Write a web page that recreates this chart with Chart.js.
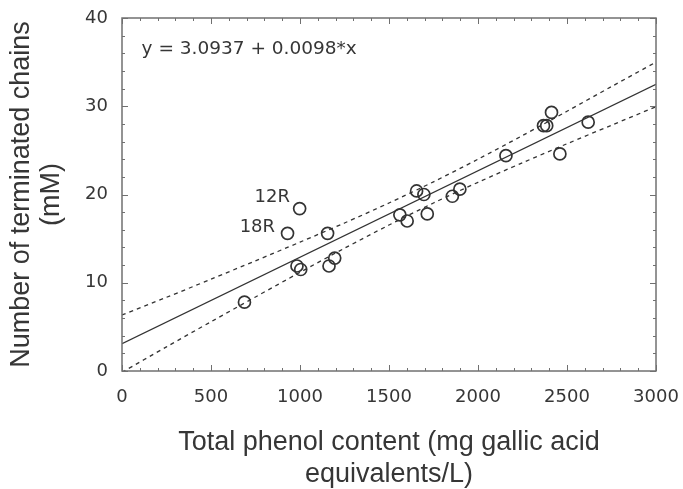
<!DOCTYPE html>
<html>
<head>
<meta charset="utf-8">
<script src="https://cdn.jsdelivr.net/npm/chart.js@4/dist/chart.umd.min.js"></script>
<style>
  html, body { margin: 0; padding: 0; background: #ffffff; }
  #wrap { width: 683px; height: 489px; }
</style>
</head>
<body>
<div id="wrap"><canvas id="c" width="683" height="489"></canvas></div>
<script>
// ---- data ----
const phenolX = [688, 930, 998, 983, 1004, 1155, 1163, 1195, 1561, 1602, 1655, 1696, 1715, 1856, 1898, 2157, 2368, 2386, 2413, 2460, 2619];
const chainsY = [7.8, 15.6, 18.4, 11.9, 11.5, 15.6, 11.9, 12.8, 17.7, 17.0, 20.4, 20.0, 17.8, 19.8, 20.6, 24.4, 27.8, 27.8, 29.3, 24.6, 28.2];

const fitX = [0, 3000];
const fitY = [3.09, 32.49];

const bandX     = [0, 250, 500, 750, 1000, 1250, 1500, 1750, 2000, 2250, 2500, 2750, 3000];
const bandUpper = [6.35, 8.35, 10.40, 12.49, 14.60, 16.77, 19.04, 21.44, 24.00, 26.68, 29.43, 32.23, 35.00];
const bandLower = [-0.15, 2.74, 5.58, 8.39, 11.18, 13.91, 16.54, 19.04, 21.38, 23.60, 25.75, 27.85, 29.95];

const xTicks = [0, 500, 1000, 1500, 2000, 2500, 3000];
const yTicks = [0, 10, 20, 30, 40];

const equationText = 'y = 3.0937 + 0.0098*x';
const pointLabels = ['12R', '18R'];
const pointLabelAt = [[944, 19.2], [860, 15.7]];
const equationAt = [110, 35.9];

// ---- helpers ----
const toXY = (xs, ys) => xs.map((v, i) => ({ x: v, y: ys[i] }));
const INK = '#333333';
const TEXT = '#363636';
const SMALL_FONT = 'DejaVu Sans';
const BIG_FONT = 'Liberation Sans';

const frame = {
  id: 'frame',
  afterDraw(chart) {
    const { ctx, chartArea: a, scales: { x, y } } = chart;
    ctx.save();
    ctx.strokeStyle = '#707070';
    ctx.lineWidth = 1;
    ctx.beginPath();
    for (let v = xTicks[0]; v <= xTicks[xTicks.length - 1]; v += 100) {
      const px = Math.round(x.getPixelForValue(v)) + 0.5;
      const len = xTicks.includes(v) ? 6 : 3;
      ctx.moveTo(px, a.bottom); ctx.lineTo(px, a.bottom - len);
      ctx.moveTo(px, a.top); ctx.lineTo(px, a.top + len);
    }
    for (let v = yTicks[0]; v <= yTicks[yTicks.length - 1]; v += 2) {
      const py = Math.round(y.getPixelForValue(v)) + 0.5;
      const len = yTicks.includes(v) ? 6 : 3;
      ctx.moveTo(a.left, py); ctx.lineTo(a.left + len, py);
      ctx.moveTo(a.right, py); ctx.lineTo(a.right - len, py);
    }
    ctx.stroke();
    ctx.lineWidth = 1.5;
    ctx.strokeRect(a.left, a.top, a.right - a.left, a.bottom - a.top);
    ctx.restore();
  }
};

const notes = {
  id: 'notes',
  afterDatasetsDraw(chart) {
    const { ctx, scales: { x, y } } = chart;
    ctx.save();
    ctx.fillStyle = TEXT;
    ctx.textBaseline = 'alphabetic';
    ctx.font = '18.5px "' + SMALL_FONT + '"';
    ctx.textAlign = 'left';
    ctx.fillText(equationText, x.getPixelForValue(equationAt[0]), y.getPixelForValue(equationAt[1]));
    ctx.font = '18px "' + SMALL_FONT + '"';
    ctx.textAlign = 'right';
    pointLabels.forEach((t, i) => {
      ctx.fillText(t, x.getPixelForValue(pointLabelAt[i][0]), y.getPixelForValue(pointLabelAt[i][1]));
    });
    ctx.restore();
  }
};

new Chart(document.getElementById('c'), {
  type: 'scatter',
  data: {
    datasets: [
      {
        label: 'samples',
        data: toXY(phenolX, chainsY),
        pointStyle: 'circle',
        pointRadius: 6,
        pointHoverRadius: 6,
        backgroundColor: 'rgba(0,0,0,0)',
        borderColor: INK,
        borderWidth: 1.7,
        order: 0
      },
      {
        type: 'line',
        label: 'fit',
        data: toXY(fitX, fitY),
        borderColor: INK,
        borderWidth: 1.3,
        pointRadius: 0,
        fill: false,
        order: 1
      },
      {
        type: 'line',
        label: 'upper',
        data: toXY(bandX, bandUpper),
        borderColor: INK,
        borderWidth: 1.3,
        borderDash: [4, 4],
        pointRadius: 0,
        tension: 0.3,
        fill: false,
        order: 2
      },
      {
        type: 'line',
        label: 'lower',
        data: toXY(bandX, bandLower),
        borderColor: INK,
        borderWidth: 1.3,
        borderDash: [4, 4],
        pointRadius: 0,
        tension: 0.3,
        fill: false,
        order: 2
      }
    ]
  },
  options: {
    responsive: false,
    animation: false,
    events: [],
    layout: { padding: { top: 18, right: 27, left: 0, bottom: 0 } },
    plugins: { legend: { display: false }, tooltip: { enabled: false } },
    scales: {
      x: {
        type: 'linear',
        min: 0, max: 3000,
        afterBuildTicks: s => { s.ticks = xTicks.map(v => ({ value: v })); },
        afterFit: s => { s.height = 118; s.paddingLeft = 0; s.paddingRight = 0; },
        grid: { display: false, drawTicks: false },
        border: { display: false },
        ticks: {
          padding: 16,
          color: TEXT,
          font: { family: SMALL_FONT, size: 18 },
          maxRotation: 0,
          autoSkip: false,
          callback: v => String(v)
        },
        title: {
          display: true,
          text: ['Total phenol content (mg gallic acid', 'equivalents/L)'],
          color: TEXT,
          font: { family: BIG_FONT, size: 27, lineHeight: 1.2 },
          padding: { top: 0, bottom: -2 }
        }
      },
      y: {
        type: 'linear',
        min: 0, max: 40,
        afterBuildTicks: s => { s.ticks = yTicks.map(v => ({ value: v })); },
        afterFit: s => { s.width = 122; s.paddingTop = 0; s.paddingBottom = 0; },
        grid: { display: false, drawTicks: false },
        border: { display: false },
        ticks: {
          padding: 14,
          color: TEXT,
          font: { family: SMALL_FONT, size: 18 },
          autoSkip: false,
          callback: v => String(v)
        },
        title: {
          display: true,
          text: ['Number of terminated chains', '(mM)'],
          color: TEXT,
          font: { family: BIG_FONT, size: 27, lineHeight: 1.1 },
          padding: { top: 7, bottom: 0 }
        }
      }
    }
  },
  plugins: [frame, notes]
});
</script>
</body>
</html>
